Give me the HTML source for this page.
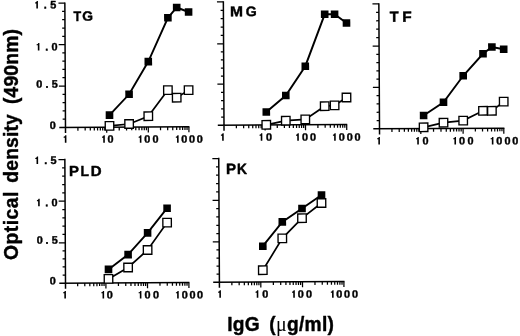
<!DOCTYPE html><html><head><meta charset="utf-8"><title>fig</title><style>html,body{margin:0;padding:0;background:#fff}svg{display:block;filter:blur(0.35px)}text{font-family:"Liberation Sans",sans-serif;font-weight:bold;fill:#000;stroke:#000;stroke-width:0.4px;stroke-linejoin:round}</style></head><body>
<svg width="520" height="336" viewBox="0 0 520 336">
<rect width="520" height="336" fill="#fff"/>
<g transform="rotate(-0.3 65.5 127.5)">
<path d="M65.50 2.40V133.10M59.30 127.50H189.40" stroke="#000" stroke-width="1.5" fill="none"/>
<path d="M62.70 119.20H65.50M62.70 110.90H65.50M62.70 102.60H65.50M62.70 94.30H65.50M62.70 77.72H65.50M62.70 69.44H65.50M62.70 61.16H65.50M62.70 52.88H65.50M62.70 36.30H65.50M62.70 28.00H65.50M62.70 19.70H65.50M62.70 11.40H65.50M59.10 86.00H65.50M59.10 44.60H65.50M59.10 3.10H65.50M77.90 127.50v3.2M85.16 127.50v3.2M90.30 127.50v3.2M94.30 127.50v3.2M97.56 127.50v3.2M100.32 127.50v3.2M102.71 127.50v3.2M104.81 127.50v3.2M119.22 127.50v3.2M126.55 127.50v3.2M131.75 127.50v3.2M135.78 127.50v3.2M139.07 127.50v3.2M141.86 127.50v3.2M144.27 127.50v3.2M146.40 127.50v3.2M160.52 127.50v3.2M167.67 127.50v3.2M172.74 127.50v3.2M176.68 127.50v3.2M179.89 127.50v3.2M182.61 127.50v3.2M184.97 127.50v3.2M187.04 127.50v3.2M106.70 127.50v5.5M148.30 127.50v5.5M188.90 127.50v5.5" stroke="#000" stroke-width="1.25" fill="none"/>
<path transform="translate(35.62 8.44)" d="M2.95 0V-7.5H1.8C1.65 -6.65 1.1 -6.2 0.15 -6.15V-5.15H1.35V0Z"/><text x="44.38" y="8.49" font-size="10.9" stroke="none">.</text><text x="50.78" y="8.52" font-size="10.9" stroke="none">5</text>
<path transform="translate(36.90 50.25)" d="M2.95 0V-7.5H1.8C1.65 -6.65 1.1 -6.2 0.15 -6.15V-5.15H1.35V0Z"/><text x="45.76" y="50.30" font-size="10.9" stroke="none">.</text><text x="51.97" y="50.33" font-size="10.9" stroke="none">0</text>
<text x="36.57" y="87.55" font-size="10.9" stroke="none">0</text><text x="45.67" y="87.60" font-size="10.9" stroke="none">.</text><text x="51.97" y="87.63" font-size="10.9" stroke="none">5</text>
<text x="49.86" y="128.92" font-size="10.9" stroke="none">0</text>
<path transform="translate(63.42 142.79)" d="M2.95 0V-7.5H1.8C1.65 -6.65 1.1 -6.2 0.15 -6.15V-5.15H1.35V0Z"/>
<path transform="translate(101.82 142.99)" d="M2.95 0V-7.5H1.8C1.65 -6.65 1.1 -6.2 0.15 -6.15V-5.15H1.35V0Z"/><text x="107.38" y="143.02" font-size="10.9" stroke="none">0</text>
<path transform="translate(138.42 143.18)" d="M2.95 0V-7.5H1.8C1.65 -6.65 1.1 -6.2 0.15 -6.15V-5.15H1.35V0Z"/><text x="144.08" y="143.21" font-size="10.9" stroke="none">0</text><text x="152.38" y="143.26" font-size="10.9" stroke="none">0</text>
<path transform="translate(175.62 143.38)" d="M2.95 0V-7.5H1.8C1.65 -6.65 1.1 -6.2 0.15 -6.15V-5.15H1.35V0Z"/><text x="181.28" y="143.41" font-size="10.9" stroke="none">0</text><text x="188.98" y="143.45" font-size="10.9" stroke="none">0</text><text x="196.68" y="143.49" font-size="10.9" stroke="none">0</text>
<text transform="translate(73.94 21.02) scale(0.930 1.021)" font-size="13.6" stroke-width="0.45">T</text>
<text transform="translate(82.72 20.93) scale(1.019 0.992)" font-size="13.6" stroke-width="0.45">G</text>
<polyline points="109.51,126.13 129.12,124.33 148.36,116.63 168.09,90.64 176.85,98.28 188.79,90.75" stroke="#000" stroke-width="1.7" fill="none"/>
<polyline points="109.56,115.33 129.27,94.63 148.64,62.03 168.47,18.34 177.33,8.08 189.20,12.65" stroke="#000" stroke-width="1.9" fill="none"/>
<rect x="105.76" y="111.53" width="7.6" height="7.6" fill="#000"/>
<rect x="125.47" y="90.83" width="7.6" height="7.6" fill="#000"/>
<rect x="144.84" y="58.23" width="7.6" height="7.6" fill="#000"/>
<rect x="164.67" y="14.54" width="7.6" height="7.6" fill="#000"/>
<rect x="173.53" y="4.28" width="7.6" height="7.6" fill="#000"/>
<rect x="185.40" y="8.85" width="7.6" height="7.6" fill="#000"/>
<rect x="105.26" y="121.88" width="8.5" height="8.5" fill="#fff" stroke="#000" stroke-width="1.35"/>
<rect x="124.87" y="120.08" width="8.5" height="8.5" fill="#fff" stroke="#000" stroke-width="1.35"/>
<rect x="144.11" y="112.38" width="8.5" height="8.5" fill="#fff" stroke="#000" stroke-width="1.35"/>
<rect x="163.84" y="86.39" width="8.5" height="8.5" fill="#fff" stroke="#000" stroke-width="1.35"/>
<rect x="172.60" y="94.03" width="8.5" height="8.5" fill="#fff" stroke="#000" stroke-width="1.35"/>
<rect x="184.54" y="86.50" width="8.5" height="8.5" fill="#fff" stroke="#000" stroke-width="1.35"/>
</g>
<g transform="rotate(-0.3 224.0 125.2)">
<path d="M224.00 1.20V130.80M217.80 125.20H347.20" stroke="#000" stroke-width="1.5" fill="none"/>
<path d="M221.20 117.00H224.00M221.20 108.80H224.00M221.20 100.60H224.00M221.20 92.40H224.00M221.20 76.12H224.00M221.20 68.04H224.00M221.20 59.96H224.00M221.20 51.88H224.00M221.20 35.42H224.00M221.20 27.04H224.00M221.20 18.66H224.00M221.20 10.28H224.00M217.60 84.20H224.00M217.60 43.80H224.00M217.60 1.90H224.00M236.37 125.20v3.2M243.61 125.20v3.2M248.74 125.20v3.2M252.73 125.20v3.2M255.98 125.20v3.2M258.73 125.20v3.2M261.12 125.20v3.2M263.22 125.20v3.2M277.26 125.20v3.2M284.38 125.20v3.2M289.42 125.20v3.2M293.34 125.20v3.2M296.54 125.20v3.2M299.24 125.20v3.2M301.58 125.20v3.2M303.65 125.20v3.2M317.90 125.20v3.2M325.16 125.20v3.2M330.30 125.20v3.2M334.30 125.20v3.2M337.56 125.20v3.2M340.32 125.20v3.2M342.71 125.20v3.2M344.81 125.20v3.2M265.10 125.20v5.5M305.50 125.20v5.5M346.70 125.20v5.5" stroke="#000" stroke-width="1.25" fill="none"/>
<path transform="translate(220.72 140.78)" d="M2.95 0V-7.5H1.8C1.65 -6.65 1.1 -6.2 0.15 -6.15V-5.15H1.35V0Z"/>
<path transform="translate(259.32 140.99)" d="M2.95 0V-7.5H1.8C1.65 -6.65 1.1 -6.2 0.15 -6.15V-5.15H1.35V0Z"/><text x="265.98" y="141.02" font-size="10.9" stroke="none">0</text>
<path transform="translate(295.82 141.18)" d="M2.95 0V-7.5H1.8C1.65 -6.65 1.1 -6.2 0.15 -6.15V-5.15H1.35V0Z"/><text x="301.88" y="141.21" font-size="10.9" stroke="none">0</text><text x="309.88" y="141.25" font-size="10.9" stroke="none">0</text>
<path transform="translate(332.72 141.37)" d="M2.95 0V-7.5H1.8C1.65 -6.65 1.1 -6.2 0.15 -6.15V-5.15H1.35V0Z"/><text x="338.78" y="141.40" font-size="10.9" stroke="none">0</text><text x="346.78" y="141.44" font-size="10.9" stroke="none">0</text><text x="354.48" y="141.48" font-size="10.9" stroke="none">0</text>
<text transform="translate(230.55 16.31) scale(1.152 1.053)" font-size="13.6" stroke-width="0.45">M</text>
<text transform="translate(246.42 16.25) scale(1.040 1.023)" font-size="13.6" stroke-width="0.45">G</text>
<polyline points="266.30,125.02 285.82,121.02 305.33,119.83 324.80,106.73 334.70,105.98 346.64,98.14" stroke="#000" stroke-width="1.7" fill="none"/>
<polyline points="266.37,112.22 285.95,95.82 305.61,66.63 325.28,14.83 335.18,14.88 347.03,23.64" stroke="#000" stroke-width="1.9" fill="none"/>
<rect x="262.57" y="108.42" width="7.6" height="7.6" fill="#000"/>
<rect x="282.15" y="92.02" width="7.6" height="7.6" fill="#000"/>
<rect x="301.81" y="62.83" width="7.6" height="7.6" fill="#000"/>
<rect x="321.48" y="11.03" width="7.6" height="7.6" fill="#000"/>
<rect x="331.38" y="11.08" width="7.6" height="7.6" fill="#000"/>
<rect x="343.23" y="19.84" width="7.6" height="7.6" fill="#000"/>
<rect x="262.05" y="120.77" width="8.5" height="8.5" fill="#fff" stroke="#000" stroke-width="1.35"/>
<rect x="281.57" y="116.77" width="8.5" height="8.5" fill="#fff" stroke="#000" stroke-width="1.35"/>
<rect x="301.08" y="115.58" width="8.5" height="8.5" fill="#fff" stroke="#000" stroke-width="1.35"/>
<rect x="320.55" y="102.48" width="8.5" height="8.5" fill="#fff" stroke="#000" stroke-width="1.35"/>
<rect x="330.45" y="101.73" width="8.5" height="8.5" fill="#fff" stroke="#000" stroke-width="1.35"/>
<rect x="342.39" y="93.89" width="8.5" height="8.5" fill="#fff" stroke="#000" stroke-width="1.35"/>
</g>
<g transform="rotate(-0.3 379.5 128.8)">
<path d="M379.50 3.20V134.40M373.30 128.80H504.40" stroke="#000" stroke-width="1.5" fill="none"/>
<path d="M376.70 120.52H379.50M376.70 112.24H379.50M376.70 103.96H379.50M376.70 95.68H379.50M376.70 79.12H379.50M376.70 70.84H379.50M376.70 62.56H379.50M376.70 54.28H379.50M376.70 37.58H379.50M376.70 29.16H379.50M376.70 20.74H379.50M376.70 12.32H379.50M373.10 87.40H379.50M373.10 46.00H379.50M373.10 3.90H379.50M391.93 128.80v3.2M399.21 128.80v3.2M404.37 128.80v3.2M408.37 128.80v3.2M411.64 128.80v3.2M414.40 128.80v3.2M416.80 128.80v3.2M418.91 128.80v3.2M433.53 128.80v3.2M440.98 128.80v3.2M446.27 128.80v3.2M450.37 128.80v3.2M453.72 128.80v3.2M456.55 128.80v3.2M459.00 128.80v3.2M461.16 128.80v3.2M475.35 128.80v3.2M482.52 128.80v3.2M487.60 128.80v3.2M491.55 128.80v3.2M494.77 128.80v3.2M497.50 128.80v3.2M499.86 128.80v3.2M501.94 128.80v3.2M420.80 128.80v5.5M463.10 128.80v5.5M503.80 128.80v5.5" stroke="#000" stroke-width="1.25" fill="none"/>
<path transform="translate(376.92 144.39)" d="M2.95 0V-7.5H1.8C1.65 -6.65 1.1 -6.2 0.15 -6.15V-5.15H1.35V0Z"/>
<path transform="translate(415.82 144.59)" d="M2.95 0V-7.5H1.8C1.65 -6.65 1.1 -6.2 0.15 -6.15V-5.15H1.35V0Z"/><text x="422.48" y="144.63" font-size="10.9" stroke="none">0</text>
<path transform="translate(453.02 144.79)" d="M2.95 0V-7.5H1.8C1.65 -6.65 1.1 -6.2 0.15 -6.15V-5.15H1.35V0Z"/><text x="458.98" y="144.82" font-size="10.9" stroke="none">0</text><text x="467.48" y="144.86" font-size="10.9" stroke="none">0</text>
<path transform="translate(490.42 144.98)" d="M2.95 0V-7.5H1.8C1.65 -6.65 1.1 -6.2 0.15 -6.15V-5.15H1.35V0Z"/><text x="496.28" y="145.01" font-size="10.9" stroke="none">0</text><text x="504.38" y="145.05" font-size="10.9" stroke="none">0</text><text x="512.08" y="145.10" font-size="10.9" stroke="none">0</text>
<text transform="translate(390.43 21.73) scale(1.067 1.085)" font-size="13.6" stroke-width="0.45">T</text>
<text transform="translate(402.85 21.80) scale(1.138 1.085)" font-size="13.6" stroke-width="0.45">F</text>
<polyline points="423.61,127.53 443.53,123.04 463.24,121.04 483.09,111.34 491.99,111.39 503.84,102.25" stroke="#000" stroke-width="1.7" fill="none"/>
<polyline points="423.67,115.73 443.64,102.54 463.48,76.24 483.39,54.34 492.33,47.59 504.11,49.95" stroke="#000" stroke-width="1.9" fill="none"/>
<rect x="419.87" y="111.93" width="7.6" height="7.6" fill="#000"/>
<rect x="439.84" y="98.74" width="7.6" height="7.6" fill="#000"/>
<rect x="459.68" y="72.44" width="7.6" height="7.6" fill="#000"/>
<rect x="479.59" y="50.54" width="7.6" height="7.6" fill="#000"/>
<rect x="488.53" y="43.79" width="7.6" height="7.6" fill="#000"/>
<rect x="500.31" y="46.15" width="7.6" height="7.6" fill="#000"/>
<rect x="419.36" y="123.28" width="8.5" height="8.5" fill="#fff" stroke="#000" stroke-width="1.35"/>
<rect x="439.28" y="118.79" width="8.5" height="8.5" fill="#fff" stroke="#000" stroke-width="1.35"/>
<rect x="458.99" y="116.79" width="8.5" height="8.5" fill="#fff" stroke="#000" stroke-width="1.35"/>
<rect x="478.84" y="107.09" width="8.5" height="8.5" fill="#fff" stroke="#000" stroke-width="1.35"/>
<rect x="487.74" y="107.14" width="8.5" height="8.5" fill="#fff" stroke="#000" stroke-width="1.35"/>
<rect x="499.59" y="98.00" width="8.5" height="8.5" fill="#fff" stroke="#000" stroke-width="1.35"/>
</g>
<g transform="rotate(-0.3 65.5 283.1)">
<path d="M65.50 158.80V288.70M59.30 283.10H189.40" stroke="#000" stroke-width="1.5" fill="none"/>
<path d="M62.70 275.04H65.50M62.70 266.98H65.50M62.70 258.92H65.50M62.70 250.86H65.50M62.70 234.48H65.50M62.70 226.16H65.50M62.70 217.84H65.50M62.70 209.52H65.50M62.70 192.86H65.50M62.70 184.52H65.50M62.70 176.18H65.50M62.70 167.84H65.50M59.10 242.80H65.50M59.10 201.20H65.50M59.10 159.50H65.50M77.66 283.10v3.2M84.78 283.10v3.2M89.82 283.10v3.2M93.74 283.10v3.2M96.94 283.10v3.2M99.64 283.10v3.2M101.98 283.10v3.2M104.05 283.10v3.2M118.42 283.10v3.2M125.75 283.10v3.2M130.95 283.10v3.2M134.98 283.10v3.2M138.27 283.10v3.2M141.06 283.10v3.2M143.47 283.10v3.2M145.60 283.10v3.2M159.96 283.10v3.2M167.25 283.10v3.2M172.43 283.10v3.2M176.44 283.10v3.2M179.72 283.10v3.2M182.49 283.10v3.2M184.89 283.10v3.2M187.01 283.10v3.2M105.90 283.10v5.5M147.50 283.10v5.5M188.90 283.10v5.5" stroke="#000" stroke-width="1.25" fill="none"/>
<path transform="translate(35.82 163.94)" d="M2.95 0V-7.5H1.8C1.65 -6.65 1.1 -6.2 0.15 -6.15V-5.15H1.35V0Z"/><text x="44.98" y="163.99" font-size="10.9" stroke="none">.</text><text x="51.19" y="164.02" font-size="10.9" stroke="none">5</text>
<path transform="translate(37.20 206.15)" d="M2.95 0V-7.5H1.8C1.65 -6.65 1.1 -6.2 0.15 -6.15V-5.15H1.35V0Z"/><text x="45.76" y="206.20" font-size="10.9" stroke="none">.</text><text x="51.97" y="206.23" font-size="10.9" stroke="none">0</text>
<text x="36.87" y="243.55" font-size="10.9" stroke="none">0</text><text x="45.67" y="243.60" font-size="10.9" stroke="none">.</text><text x="51.97" y="243.63" font-size="10.9" stroke="none">5</text>
<text x="49.86" y="284.42" font-size="10.9" stroke="none">0</text>
<path transform="translate(62.92 298.39)" d="M2.95 0V-7.5H1.8C1.65 -6.65 1.1 -6.2 0.15 -6.15V-5.15H1.35V0Z"/>
<path transform="translate(101.12 298.59)" d="M2.95 0V-7.5H1.8C1.65 -6.65 1.1 -6.2 0.15 -6.15V-5.15H1.35V0Z"/><text x="106.78" y="298.62" font-size="10.9" stroke="none">0</text>
<path transform="translate(138.42 298.78)" d="M2.95 0V-7.5H1.8C1.65 -6.65 1.1 -6.2 0.15 -6.15V-5.15H1.35V0Z"/><text x="144.38" y="298.81" font-size="10.9" stroke="none">0</text><text x="152.88" y="298.86" font-size="10.9" stroke="none">0</text>
<path transform="translate(175.72 298.98)" d="M2.95 0V-7.5H1.8C1.65 -6.65 1.1 -6.2 0.15 -6.15V-5.15H1.35V0Z"/><text x="181.58" y="299.01" font-size="10.9" stroke="none">0</text><text x="189.48" y="299.05" font-size="10.9" stroke="none">0</text><text x="196.98" y="299.09" font-size="10.9" stroke="none">0</text>
<text transform="translate(69.59 175.99) scale(1.098 1.063)" font-size="13.6" stroke-width="0.45">P</text>
<text transform="translate(81.05 176.05) scale(1.025 1.063)" font-size="13.6" stroke-width="0.45">L</text>
<text transform="translate(91.27 176.11) scale(1.110 1.063)" font-size="13.6" stroke-width="0.45">D</text>
<polyline points="108.52,279.13 128.18,267.83 147.77,250.43 167.42,223.13" stroke="#000" stroke-width="1.7" fill="none"/>
<polyline points="108.57,269.63 128.25,254.93 147.86,233.33 167.49,208.73" stroke="#000" stroke-width="1.9" fill="none"/>
<rect x="104.77" y="265.83" width="7.6" height="7.6" fill="#000"/>
<rect x="124.45" y="251.13" width="7.6" height="7.6" fill="#000"/>
<rect x="144.06" y="229.53" width="7.6" height="7.6" fill="#000"/>
<rect x="163.69" y="204.93" width="7.6" height="7.6" fill="#000"/>
<rect x="104.27" y="274.88" width="8.5" height="8.5" fill="#fff" stroke="#000" stroke-width="1.35"/>
<rect x="123.93" y="263.58" width="8.5" height="8.5" fill="#fff" stroke="#000" stroke-width="1.35"/>
<rect x="143.52" y="246.18" width="8.5" height="8.5" fill="#fff" stroke="#000" stroke-width="1.35"/>
<rect x="163.17" y="218.88" width="8.5" height="8.5" fill="#fff" stroke="#000" stroke-width="1.35"/>
</g>
<g transform="rotate(-0.3 219.4 282.2)">
<path d="M219.40 157.80V287.80M213.20 282.20H344.50" stroke="#000" stroke-width="1.5" fill="none"/>
<path d="M216.60 274.14H219.40M216.60 266.08H219.40M216.60 258.02H219.40M216.60 249.96H219.40M216.60 233.58H219.40M216.60 225.26H219.40M216.60 216.94H219.40M216.60 208.62H219.40M216.60 191.94H219.40M216.60 183.58H219.40M216.60 175.22H219.40M216.60 166.86H219.40M213.00 241.90H219.40M213.00 200.30H219.40M213.00 158.50H219.40M231.86 282.20v3.2M239.15 282.20v3.2M244.33 282.20v3.2M248.34 282.20v3.2M251.62 282.20v3.2M254.39 282.20v3.2M256.79 282.20v3.2M258.91 282.20v3.2M273.35 282.20v3.2M280.70 282.20v3.2M285.91 282.20v3.2M289.95 282.20v3.2M293.25 282.20v3.2M296.04 282.20v3.2M298.46 282.20v3.2M300.59 282.20v3.2M314.96 282.20v3.2M322.25 282.20v3.2M327.43 282.20v3.2M331.44 282.20v3.2M334.72 282.20v3.2M337.49 282.20v3.2M339.89 282.20v3.2M342.01 282.20v3.2M260.80 282.20v5.5M302.50 282.20v5.5M343.90 282.20v5.5" stroke="#000" stroke-width="1.25" fill="none"/>
<path transform="translate(217.92 297.79)" d="M2.95 0V-7.5H1.8C1.65 -6.65 1.1 -6.2 0.15 -6.15V-5.15H1.35V0Z"/>
<path transform="translate(255.32 297.99)" d="M2.95 0V-7.5H1.8C1.65 -6.65 1.1 -6.2 0.15 -6.15V-5.15H1.35V0Z"/><text x="262.08" y="298.02" font-size="10.9" stroke="none">0</text>
<path transform="translate(291.82 298.18)" d="M2.95 0V-7.5H1.8C1.65 -6.65 1.1 -6.2 0.15 -6.15V-5.15H1.35V0Z"/><text x="297.58" y="298.21" font-size="10.9" stroke="none">0</text><text x="305.98" y="298.25" font-size="10.9" stroke="none">0</text>
<path transform="translate(330.62 298.38)" d="M2.95 0V-7.5H1.8C1.65 -6.65 1.1 -6.2 0.15 -6.15V-5.15H1.35V0Z"/><text x="336.28" y="298.41" font-size="10.9" stroke="none">0</text><text x="343.98" y="298.45" font-size="10.9" stroke="none">0</text><text x="351.98" y="298.50" font-size="10.9" stroke="none">0</text>
<text transform="translate(226.58 174.01) scale(1.111 1.095)" font-size="13.6" stroke-width="0.45">P</text>
<text transform="translate(237.66 174.07) scale(1.019 1.095)" font-size="13.6" stroke-width="0.45">K</text>
<polyline points="262.86,270.43 282.53,238.73 302.33,218.63 321.91,203.54" stroke="#000" stroke-width="1.7" fill="none"/>
<polyline points="262.99,246.43 282.61,222.23 302.38,208.93 321.96,195.54" stroke="#000" stroke-width="1.9" fill="none"/>
<rect x="259.19" y="242.63" width="7.6" height="7.6" fill="#000"/>
<rect x="278.81" y="218.43" width="7.6" height="7.6" fill="#000"/>
<rect x="298.58" y="205.13" width="7.6" height="7.6" fill="#000"/>
<rect x="318.16" y="191.74" width="7.6" height="7.6" fill="#000"/>
<rect x="258.61" y="266.18" width="8.5" height="8.5" fill="#fff" stroke="#000" stroke-width="1.35"/>
<rect x="278.28" y="234.48" width="8.5" height="8.5" fill="#fff" stroke="#000" stroke-width="1.35"/>
<rect x="298.08" y="214.38" width="8.5" height="8.5" fill="#fff" stroke="#000" stroke-width="1.35"/>
<rect x="317.66" y="199.29" width="8.5" height="8.5" fill="#fff" stroke="#000" stroke-width="1.35"/>
</g>
<g transform="translate(0 330.7) scale(1 1.05)"><text x="227.2" y="0" font-size="19.2" letter-spacing="0.3">IgG</text>
<text x="269.2" y="0" font-size="19.2" letter-spacing="0.3">(<tspan font-family="Liberation Serif" font-weight="normal" font-size="20" stroke="none">μ</tspan>g/ml)</text></g>
<g transform="translate(17.6 260) rotate(-90) scale(1 1.05)"><text x="0" y="0" font-size="19.3" letter-spacing="0.5">Optical</text><text x="77.3" y="0" font-size="19.3" letter-spacing="0.17">density</text><text x="155.9" y="0" font-size="19.3" letter-spacing="0.2">(490nm)</text></g>
</svg></body></html>
